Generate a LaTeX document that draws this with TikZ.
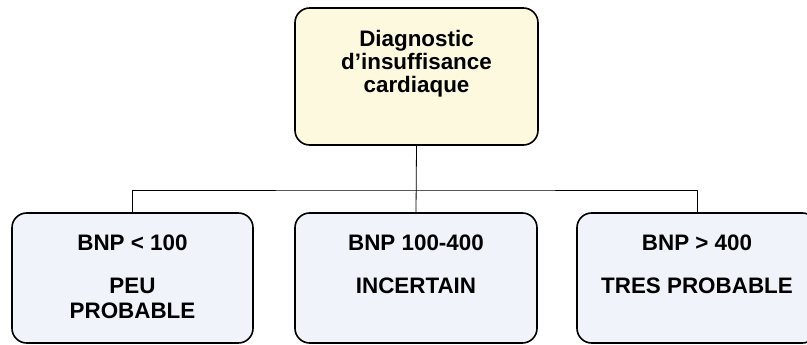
\documentclass[tikz,border=0pt]{standalone}
\usepackage{fontspec}
\setmainfont{Liberation Sans}
\usepackage{tikz}
\usetikzlibrary{positioning}

\begin{document}
\begin{tikzpicture}[x=0.75pt,y=0.75pt,yscale=-1,xscale=1,
    box/.style={draw, line width=1.2pt, rounded corners=11pt, inner sep=0pt},
    diagbox/.style={box, fill=diagfill, minimum width=182.25pt, minimum height=102.75pt},
    bnpbox/.style={box, fill=bnpfill, minimum height=97.5pt},
    txt/.style={font=\bfseries\fontsize{16.8}{17}\selectfont, align=center, inner sep=0pt},
    bnptxt/.style={txt, anchor=north, font=\bfseries\fontsize{16.8}{18.75}\selectfont},
    link/.style={draw, line width=0.6pt}]
        \definecolor{diagfill}{RGB}{252,249,222}
        \definecolor{bnpfill}{RGB}{240,243,250}
        \useasboundingbox (0,0) rectangle (807,345);
        % Top box
        \node [diagbox] (diag) at (416.5,76.5) {};
        \node [txt, anchor=north] (diagtxt) at (416.5,30.5) {Diagnostic\\d’insuffisance\\cardiaque};
        % Bottom boxes
        \node [bnpbox, minimum width=180.75pt] (peu) at (132.5,278) {};
        \node [bnpbox, minimum width=181.5pt] (incert) at (416,278) {};
        \node [bnpbox, minimum width=180pt] (tres) at (697,278) {};
        % Text Node
        \node [bnptxt] (peutxt) at (132.5,235) {BNP < 100\\[13pt]PEU\\PROBABLE};
        % Text Node
        \node [bnptxt] (incerttxt) at (416,235) {BNP 100-400\\[13pt]INCERTAIN};
        % Text Node
        \node [bnptxt] (trestxt) at (697,235) {BNP > 400\\[13pt]TRES PROBABLE};
        % Connectors
        \coordinate (bar) at (416,190);
        \draw [link] (diag.south) -- (incert.north);
        \draw [link] (peu.north) |- (bar) -| (tres.north);
\end{tikzpicture}
\end{document}
